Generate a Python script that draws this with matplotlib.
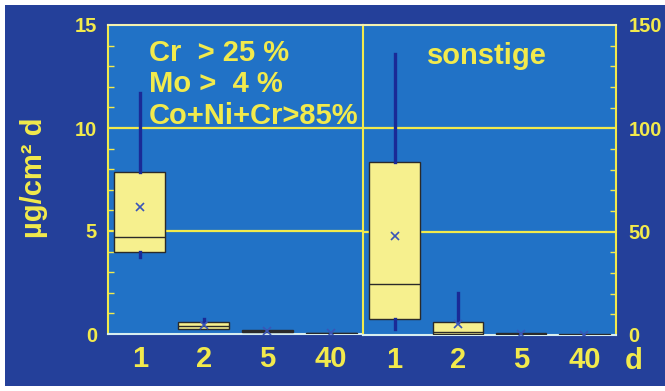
import numpy as np
import matplotlib.pyplot as plt
from matplotlib.patches import Rectangle

# days after immersion
days = ["1", "2", "5", "40"]

# left panel: Cr > 25 %, Mo > 4 %, Co+Ni+Cr > 85 %  (ug/cm2 d)
left_q1 = [4.0, 0.23, 0.10, 0.02]
left_med = [4.73, 0.40, 0.15, 0.03]
left_q3 = [7.88, 0.57, 0.20, 0.05]
left_lo = [3.74, 0.23, 0.10, 0.02]
left_hi = [11.7, 0.75, 0.20, 0.05]
left_mean = [6.18, 0.45, 0.15, 0.04]

# right panel: sonstige (right axis, 0-150)
right_q1 = [7.6, 0.3, 0.3, 0.0]
right_med = [24.6, 1.5, 0.6, 0.1]
right_q3 = [83.6, 6.5, 1.2, 0.3]
right_lo = [2.8, 0.3, 0.3, 0.0]
right_hi = [136.0, 20.5, 1.2, 0.3]
right_mean = [47.7, 5.3, 0.6, 0.2]

NAVY = "#24409a"
PANEL = "#2172c6"
YEL = "#f2ea4c"
BOXFILL = "#f6f08e"
WHISK = "#1a2a96"

plt.rcParams["font.family"] = ["Liberation Sans", "DejaVu Sans"]
plt.rcParams["font.weight"] = "bold"

W, H = 665, 391
fig = plt.figure(figsize=(W / 100, H / 100), dpi=100, facecolor="white")
fig.patches.append(Rectangle((5 / W, 5 / H), 1, 1 - 10 / H, transform=fig.transFigure,
                             facecolor=NAVY, edgecolor="none", zorder=-10))


def fax(x0, x1, y0, y1):
    return fig.add_axes([x0 / W, 1 - y1 / H, (x1 - x0) / W, (y1 - y0) / H])


ax1 = fax(108, 363, 25, 334)
ax2 = fax(363, 616, 25, 335)


def make_stats(q1, med, q3, lo, hi, mean):
    return [dict(q1=a, med=b, q3=c, whislo=d, whishi=e, mean=f, fliers=[], label=lab)
            for a, b, c, d, e, f, lab in zip(q1, med, q3, lo, hi, mean, days)]


for ax, stats, top in [
    (ax1, make_stats(left_q1, left_med, left_q3, left_lo, left_hi, left_mean), 15),
    (ax2, make_stats(right_q1, right_med, right_q3, right_lo, right_hi, right_mean), 150),
]:
    ax.set_facecolor(PANEL)
    ax.set_ylim(0, top)
    ax.set_xlim(0.5, 4.5)
    for v in (top / 3, 2 * top / 3):
        ax.axhline(v, color=YEL, lw=1.6, zorder=1)
    ax.bxp(stats, widths=0.8, patch_artist=True, showmeans=True, showcaps=False,
           boxprops=dict(facecolor=BOXFILL, edgecolor="#2a2a2a", lw=1.0),
           medianprops=dict(color="#2a2a2a", lw=1.0),
           whiskerprops=dict(color=WHISK, lw=2.4),
           meanprops=dict(marker="x", markeredgecolor="#3a55b8", markersize=6, mew=1.2),
           zorder=3)
    ax.set_xticks(range(1, 5), labels=days)
    ax.tick_params(axis="x", length=0, pad=8, labelsize=21, labelcolor=YEL)
    ax.set_yticks(np.arange(0, top + 0.01, top / 15), minor=True)
    ax.tick_params(axis="y", which="minor", direction="in", length=4, color=YEL, width=1)
    ax.spines["top"].set_color("#f4f2b0")
    ax.spines["bottom"].set_color("#d8eef0")
    for s in ax.spines.values():
        s.set_linewidth(1.5)

ax1.spines["left"].set_color(YEL)
ax1.spines["right"].set_visible(False)
ax1.set_yticks([0, 5, 10, 15])
ax1.tick_params(axis="y", which="major", length=0, pad=8, labelsize=14.5, labelcolor=YEL)

ax2.spines["left"].set_color(YEL)
ax2.spines["right"].set_color(YEL)
ax2.yaxis.tick_right()
ax2.set_yticks([0, 50, 100, 150])
ax2.tick_params(axis="y", which="major", length=0, pad=9, labelsize=14.5, labelcolor=YEL)

ax1.text(0.16, 0.955, "Cr  > 25 %\nMo >  4 %\nCo+Ni+Cr>85%", transform=ax1.transAxes,
         color=YEL, fontsize=21, fontweight="bold", va="top", ha="left", linespacing=1.15)
ax2.text(0.488, 0.945, "sonstige", transform=ax2.transAxes, color=YEL,
         fontsize=21, fontweight="bold", va="top", ha="center")

fig.text(34 / W, 1 - 178 / H, "µg/cm² d", rotation=90, color=YEL, fontsize=21,
         fontweight="bold", ha="center", va="center")
fig.text(634 / W, 1 - 347 / H, "d", color=YEL, fontsize=21, fontweight="bold",
         ha="center", va="top")

fig.savefig("out.png", dpi=100, facecolor=fig.get_facecolor())
